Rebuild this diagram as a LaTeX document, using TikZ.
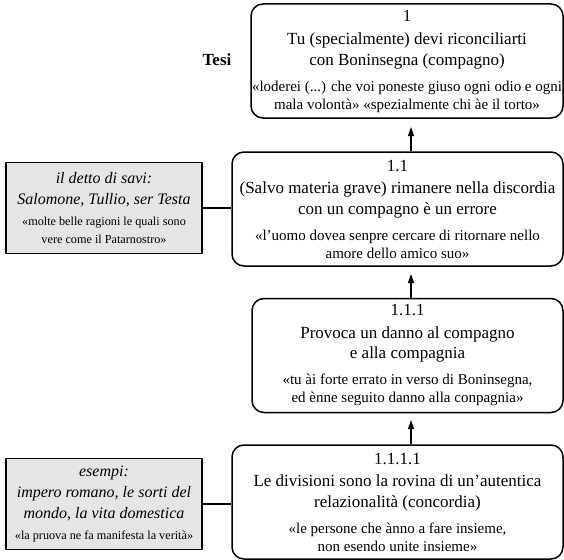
\documentclass[tikz,border=0pt]{standalone}
\usepackage{fontspec}
\setmainfont{Liberation Serif}
\usetikzlibrary{arrows.meta}
% citazioni: nelle tesi e nelle fonti
\newcommand\citaz[1]{\par\vspace{8pt}{\fontsize{15}{18}\selectfont #1\par}}
\newcommand\citazf[1]{\par\vspace{3pt}{\upshape\fontsize{12.2}{18}\selectfont #1\par}}
\begin{document}
\begin{tikzpicture}[x=1pt,y=-1pt,
  tesibox/.style={draw,line width=1.5pt,rounded corners=12pt,text width=#1,inner xsep=1pt,inner ysep=0pt,minimum height=114pt,align=flush center,font=\fontsize{17}{20.5}\selectfont},
  fontebox/.style={draw,line width=1.5pt,fill=black!10,text width=194pt,inner xsep=1pt,inner ysep=0pt,minimum height=91pt,align=flush center,font=\fontsize{16}{21}\selectfont},
  freccia/.style={line width=1.2pt,-{Triangle[width=6pt,length=9pt]}},
  linea/.style={line width=1.2pt}]
\useasboundingbox (0,0) rectangle (564,559);
% colonna delle tesi
\node[tesibox=310pt] (b1) at (407,61) {1\par\vspace{3pt}Tu (specialmente) devi riconciliarti\\con Boninsegna (compagno)\citaz{«loderei (...) che voi poneste giuso ogni odio e ogni\\mala volontà» «spezialmente chi àe il torto»}};
\node[tesibox=329pt] (b2) at (397.5,209) {1.1\par\vspace{2pt}(Salvo materia grave) rimanere nella discordia\\con un compagno è un errore\citaz{«l’uomo dovea senpre cercare di ritornare nello\\amore dello amico suo»}};
\node[tesibox=309pt] (b3) at (407.5,355.5) {1.1.1\par\vspace{2pt}Provoca un danno al compagno\\e alla compagnia\citaz{«tu ài forte errato in verso di Boninsegna,\\ed ènne seguito danno alla conpagnia»}};
\node[tesibox=329pt] (b4) at (397.5,502) {1.1.1.1\par\vspace{2pt}Le divisioni sono la rovina di un’autentica\\relazionalità (concordia)\citaz{«le persone che ànno a fare insieme,\\non esendo unite insieme»}};
\node[font=\fontsize{17}{20}\selectfont\bfseries] (tesi) at (217,60) {Tesi};
% fonti a sinistra
\node[fontebox] (g1) at (104,208) {\itshape il detto di savi:\\Salomone, Tullio, ser Testa\citazf{«molte belle ragioni le quali sono\\vere come il Patarnostro»}};
\node[fontebox] (g2) at (104,504) {\itshape esempi:\\impero romano, le sorti del\\mondo, la vita domestica\citazf{«la pruova ne fa manifesta la verità»}};
% frecce
\coordinate (p1) at (411,127);
\coordinate (p2) at (411,274);
\coordinate (p3) at (411,420);
\draw[freccia] (p1 |- b2.north) -- (p1);
\draw[freccia] (p2 |- b3.north) -- (p2);
\draw[freccia] (p3 |- b4.north) -- (p3);
\draw[linea] (g1.east) -- (g1.east -| b2.west);
\draw[linea] (g2.east) -- (g2.east -| b4.west);
\end{tikzpicture}
\end{document}
